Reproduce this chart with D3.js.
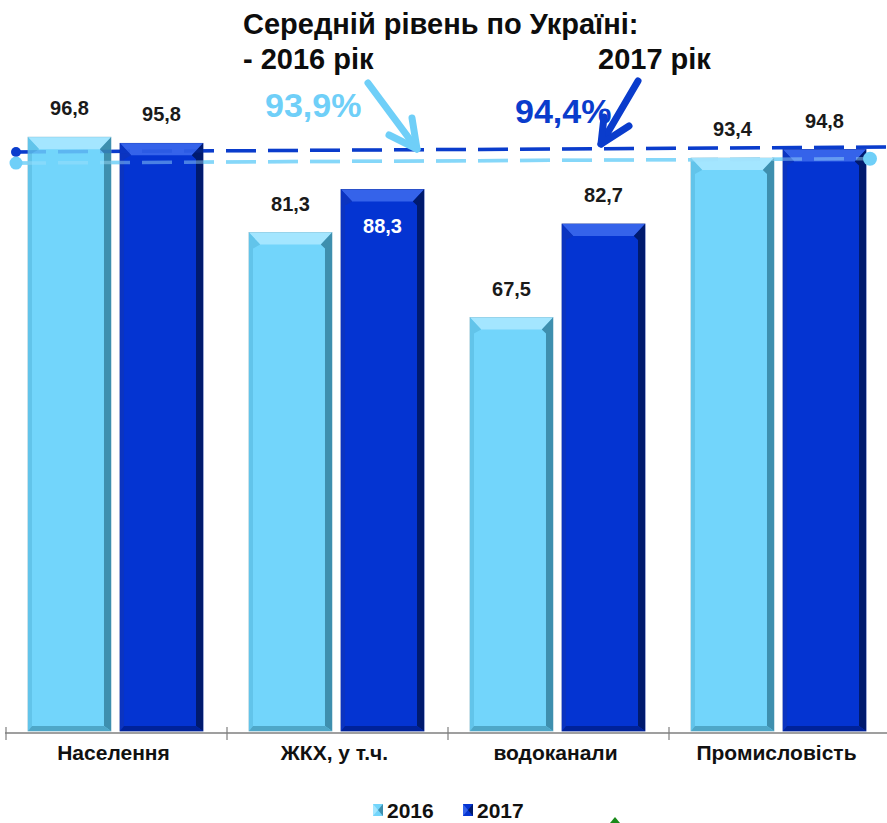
<!DOCTYPE html>
<html><head><meta charset="utf-8">
<script src="https://cdn.jsdelivr.net/npm/d3@7/dist/d3.min.js"></script>
<style>
html,body{margin:0;padding:0;background:#fff;}
svg{display:block;font-family:"Liberation Sans",Arial,sans-serif;}
</style></head>
<body>
<svg id="c" width="887" height="823"></svg>
<script>
const categories = ["Населення", "ЖКХ, у т.ч.", "водоканали", "Промисловість"];
const series = ["2016", "2017"];
const values2016 = [96.8, 81.3, 67.5, 93.4];
const values2017 = [95.8, 88.3, 82.7, 94.8];
const labels2016 = ["96,8", "81,3", "67,5", "93,4"];
const labels2017 = ["95,8", "88,3", "82,7", "94,8"];
// dashed average lines (left end, right end)
const avgLine2016 = [92.6, 93.3];
const avgLine2017 = [94.4, 95.2];
const avgText2016 = "93,9%";
const avgText2017 = "94,4%";

const colors = {
  "2016": {base:"#72d5fb", top:"#a4e6ff", left:"#62c4ea", right:"#3e8fae", bottom:"#4ea7c8", stroke:"#7fb8cc"},
  "2017": {base:"#0434d2", top:"#3563ea", left:"#0b34c0", right:"#001a6e", bottom:"#00229a", stroke:"#0a2a9a"}
};

const svg = d3.select("#c");
const baseY = 733;
const y = d3.scaleLinear().domain([0, 100]).range([baseY, baseY - 615.5]);
const x0 = d3.scaleBand().domain(categories).range([6, 890]).paddingInner(0).paddingOuter(0);
const x1 = d3.scaleBand().domain(series).range([22, 197]).paddingInner(0.098).paddingOuter(0);

const data = categories.map((c, i) => ({
  cat: c,
  bars: [
    {s:"2016", v: values2016[i], label: labels2016[i]},
    {s:"2017", v: values2017[i], label: labels2017[i]}
  ]
}));

// average lines (behind bars)
const lineX = { "2016": [16, 870], "2017": [16, 896] };
function drawAvg(g, vals, s, color, width, op) {
  const pts = vals.map((v, i) => [lineX[s][i], y(v)]);
  g.append("path")
    .attr("d", d3.line()(pts))
    .attr("stroke", color).attr("stroke-width", width)
    .attr("stroke-dasharray", "30 12").attr("fill", "none").attr("opacity", op);
}
const back = svg.append("g");
drawAvg(back, avgLine2017, "2017", "#0a3ccc", 3.5, 1);
drawAvg(back, avgLine2016, "2016", "#6fcff8", 3.5, 1);

// bars
const gBars = svg.append("g");
data.forEach(d => {
  d.bars.forEach(b => {
    const bx = x0(d.cat) + x1(b.s);
    const bw = x1.bandwidth();
    const by = y(b.v);
    const bh = baseY - 2 - by;
    const c = colors[b.s];
    const s = 7, t = 12, bt = 5;
    const g = gBars.append("g");
    g.append("rect").attr("x", bx).attr("y", by).attr("width", bw).attr("height", bh)
      .attr("fill", c.base).attr("stroke", c.stroke).attr("stroke-width", 0.8);
    g.append("polygon").attr("points", [[bx,by],[bx+bw,by],[bx+bw-s*1.6,by+t],[bx+s*1.6,by+t]].join(" ")).attr("fill", c.top);
    g.append("polygon").attr("points", [[bx,by],[bx+s*1.6,by+t],[bx+4,by+t+4],[bx+4,by+bh-bt],[bx,by+bh]].join(" ")).attr("fill", c.left);
    g.append("polygon").attr("points", [[bx+bw,by],[bx+bw,by+bh],[bx+bw-s,by+bh-bt],[bx+bw-s,by+t+4],[bx+bw-s*1.6,by+t]].join(" ")).attr("fill", c.right);
    g.append("polygon").attr("points", [[bx,by+bh],[bx+4,by+bh-bt],[bx+bw-s,by+bh-bt],[bx+bw,by+bh]].join(" ")).attr("fill", c.bottom);
  });
});

// faint overlay of lines through bars
const front = svg.append("g");
drawAvg(front, avgLine2017, "2017", "#0a3ccc", 3.5, 0.2);
drawAvg(front, avgLine2016, "2016", "#9fe0fb", 3.5, 0.45);
// end dots
svg.append("circle").attr("cx", lineX["2017"][0]).attr("cy", y(avgLine2017[0])).attr("r", 5).attr("fill", "#0a3ccc");
svg.append("circle").attr("cx", lineX["2016"][0]).attr("cy", y(avgLine2016[0])).attr("r", 6.5).attr("fill", "#6fcff8");
svg.append("circle").attr("cx", lineX["2016"][1]).attr("cy", y(avgLine2016[1])).attr("r", 7).attr("fill", "#6fcff8");

// value labels
data.forEach(d => {
  d.bars.forEach(b => {
    const cx = x0(d.cat) + x1(b.s) + x1.bandwidth() / 2;
    const inside = b.label === "88,3";
    svg.append("text")
      .attr("x", cx)
      .attr("y", inside ? y(b.v) + 43 : y(b.v) - 22)
      .attr("text-anchor", "middle")
      .attr("font-size", 20).attr("font-weight", "bold")
      .attr("fill", inside ? "#ffffff" : "#1a1a1a")
      .text(b.label);
  });
});

// axis
const ax = svg.append("g");
ax.append("line").attr("x1", 5).attr("x2", 887).attr("y1", baseY).attr("y2", baseY)
  .attr("stroke", "#7f7f7f").attr("stroke-width", 1.5);
categories.forEach(c => {
  ax.append("line").attr("x1", x0(c)).attr("x2", x0(c)).attr("y1", baseY - 6).attr("y2", baseY + 7)
    .attr("stroke", "#7f7f7f").attr("stroke-width", 1.2);
  ax.append("text").attr("x", x0(c) + x0.bandwidth() / 2 - 3).attr("y", baseY + 27)
    .attr("text-anchor", "middle").attr("font-size", 21).attr("font-weight", "bold")
    .attr("fill", "#111").text(c);
});

// title texts
const tt = svg.append("g").attr("font-weight", "bold").attr("fill", "#0d0d0d");
tt.append("text").attr("x", 243).attr("y", 34).attr("font-size", 29).text("Середній рівень по Україні:");
tt.append("text").attr("x", 243).attr("y", 69).attr("font-size", 29).text("- 2016 рік");
tt.append("text").attr("x", 598).attr("y", 69).attr("font-size", 29).text("2017 рік");
svg.append("text").attr("x", 265).attr("y", 117).attr("font-size", 34).attr("font-weight", "bold")
  .attr("fill", "#6fcff8").text(avgText2016);
svg.append("text").attr("x", 515).attr("y", 123).attr("font-size", 34).attr("font-weight", "bold")
  .attr("fill", "#0a3ccc").text(avgText2017);

// arrows
function arrow(color, from, tip, w1, w2) {
  const g = svg.append("g").attr("stroke", color).attr("stroke-width", 7)
    .attr("stroke-linecap", "round").attr("stroke-linejoin", "round").attr("fill", color);
  g.append("line").attr("x1", from[0]).attr("y1", from[1]).attr("x2", tip[0]).attr("y2", tip[1]);
  g.append("path").attr("d", d3.line()([w1, tip, w2])).attr("fill", "none");
}
arrow("#6fcff8", [368, 83], [417, 149], [389, 135], [412, 118]);
arrow("#0a3ccc", [638, 81], [601, 144], [604, 117], [629, 126]);

// legend
const lg = svg.append("g");
[["2016", 373], ["2017", 463]].forEach(([s, lx]) => {
  const c = colors[s];
  lg.append("rect").attr("x", lx).attr("y", 804).attr("width", 10).attr("height", 12).attr("fill", c.base);
  lg.append("polygon").attr("points", [[lx,804],[lx+5,810],[lx,816]].join(" ")).attr("fill", c.top);
  lg.append("polygon").attr("points", [[lx+10,804],[lx+10,816],[lx+5,810]].join(" ")).attr("fill", c.right);
  lg.append("text").attr("x", lx + 14).attr("y", 818).attr("font-size", 21).attr("font-weight", "bold")
    .attr("fill", "#111").text(s);
});
// small green marker at the bottom
svg.append("polygon").attr("points", "610,823 615,817 620,823").attr("fill", "#1a8a1a");
</script>
</body></html>
